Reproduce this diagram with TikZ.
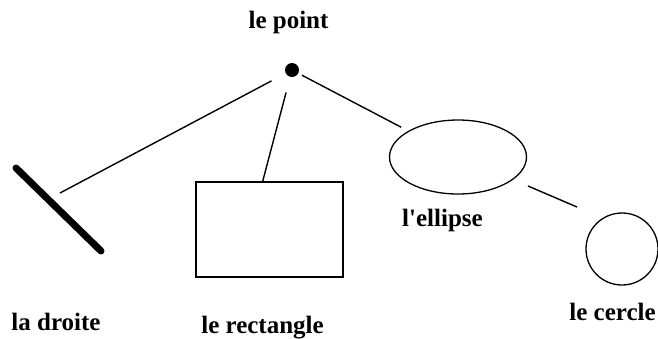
\documentclass[tikz,border=0pt]{standalone}
\usepackage{fontspec}
\setmainfont{Liberation Serif}[Ligatures=TeXOff]
\usetikzlibrary{shapes.geometric}
\begin{document}
\begin{tikzpicture}[x=1pt,y=-1pt,
  lbl/.style={anchor=base,inner sep=0pt,font=\fontsize{25}{25}\selectfont\bfseries},
  conn/.style={draw=black,line width=1.4pt},
  shp/.style={draw=black,line width=1.6pt,inner sep=0pt}]
\useasboundingbox (0,0) rectangle (658,338);
% shapes
\node[circle,fill=black,inner sep=0pt,minimum size=14pt] (pt) at (292,70) {};
\node[shp,rectangle,minimum width=147pt,minimum height=95pt] (rect) at (269.5,229.5) {};
\node[shp,ellipse,line width=1.3pt,minimum width=137pt,minimum height=74pt] (ell) at (458,157) {};
\node[shp,circle,line width=1.3pt,minimum size=72pt] (circ) at (622,249) {};
\coordinate (d1) at (16,168);
\coordinate (d2) at (101,251);
\draw[line width=7pt,line cap=round] (d1) -- (d2);
% connector ends
\coordinate (dEnd) at (60,193);
\coordinate (rtop) at (262.5,182);
\coordinate (e1) at (528,186);
\coordinate (c1) at (577,207);
% connectors
\draw[conn,shorten <=16pt] (pt) -- (dEnd);
\draw[conn,shorten <=16pt] (pt) -- (rtop);
\draw[conn,shorten <=4pt,shorten >=8pt] (pt) -- (ell);
\draw[conn] (e1) -- (c1);
% labels
\node[lbl] (lpt) at (288.5,28) {le point};
\node[lbl] (ldr) at (56,330) {la droite};
\node[lbl] (lre) at (262.5,333) {le rectangle};
\node[lbl] (lel) at (442.5,226) {l'ellipse};
\node[lbl] (lce) at (612.5,320) {le cercle};
\end{tikzpicture}
\end{document}
